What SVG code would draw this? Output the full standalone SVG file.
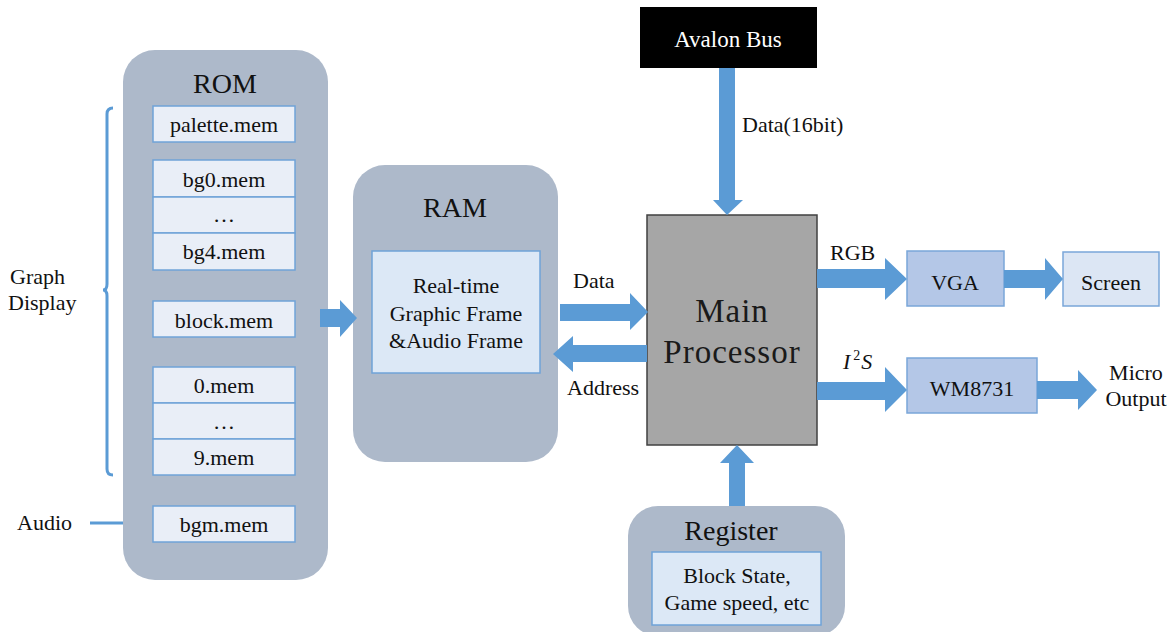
<svg xmlns="http://www.w3.org/2000/svg" width="1175" height="632" viewBox="0 0 1175 632" font-family="'Liberation Serif', 'Times New Roman', Times, serif">
<style>
.t{font-size:22px;text-anchor:middle;fill:#111;}
.l{font-size:22px;fill:#111;}
.h{font-size:28px;text-anchor:middle;fill:#111;}
.cont{fill:#adb9ca;}
.cell{fill:#e9eef7;stroke:#6fa3d8;stroke-width:1.5;}
.arr{fill:#5b9bd5;}
.dark{fill:#b4c7e7;stroke:#7aa6d9;stroke-width:1.5;}
</style>
<rect width="1175" height="632" fill="#ffffff"/>
<g id="rom">
<rect class="cont" x="123" y="50" width="205" height="530" rx="32"/>
<text class="h" x="225" y="93" font-family="Liberation Serif">ROM</text>
<rect class="cell" x="153" y="106" width="142" height="36"/>
<text class="t" x="224" y="132">palette.mem</text>
<rect class="cell" x="153" y="160" width="142" height="37"/>
<rect class="cell" x="153" y="197" width="142" height="36"/>
<rect class="cell" x="153" y="233" width="142" height="37"/>
<text class="t" x="224" y="187">bg0.mem</text>
<text class="t" x="224" y="222">…</text>
<text class="t" x="224" y="259">bg4.mem</text>
<rect class="cell" x="153" y="301" width="142" height="36"/>
<text class="t" x="224" y="328">block.mem</text>
<rect class="cell" x="153" y="367" width="142" height="36"/>
<rect class="cell" x="153" y="403" width="142" height="36"/>
<rect class="cell" x="153" y="439" width="142" height="36"/>
<text class="t" x="224" y="393">0.mem</text>
<text class="t" x="224" y="429">…</text>
<text class="t" x="224" y="465">9.mem</text>
<rect class="cell" x="153" y="506" width="142" height="36"/>
<text class="t" x="224" y="532">bgm.mem</text>
</g>
<g id="graph-display">
<path d="M113,108 Q107,108 107,114 V284 Q107,290 103,290 Q107,290 107,296 V469 Q107,475 113,475" fill="none" stroke="#5b9bd5" stroke-width="3"/>
<text class="l" x="10" y="284">Graph</text>
<text class="l" x="8" y="310">Display</text>
</g>
<g id="audio">
<line x1="90" y1="523" x2="123" y2="523" stroke="#5b9bd5" stroke-width="3"/>
<text class="l" x="17" y="530">Audio</text>
</g>
<g id="ram">
<rect class="cont" x="353" y="165" width="205" height="297" rx="32"/>
<text class="h" x="455" y="217">RAM</text>
<rect x="372" y="251" width="168" height="122" fill="#dce8f6" stroke="#6fa3d8" stroke-width="1.5"/>
<text class="t" x="456" y="293">Real-time</text>
<text class="t" x="456" y="321">Graphic Frame</text>
<text class="t" x="456" y="348">&amp;Audio Frame</text>
</g>
<g id="avalon">
<rect x="640" y="7" width="177" height="61" fill="#000"/>
<text x="728" y="47" font-size="23" text-anchor="middle" fill="#fff">Avalon Bus</text>
</g>
<g id="processor">
<rect x="647" y="215" width="170" height="230" fill="#a6a6a6" stroke="#404040" stroke-width="1.5"/>
<text x="732" y="322" font-size="33" text-anchor="middle" letter-spacing="1" fill="#1a1a1a">Main</text>
<text x="732" y="363" font-size="33" text-anchor="middle" letter-spacing="1" fill="#1a1a1a">Processor</text>
</g>
<g id="vga">
<rect class="dark" x="907" y="251" width="97" height="55"/>
<text class="t" x="955" y="290">VGA</text>
</g>
<g id="screen">
<rect x="1063" y="252" width="96" height="54" fill="#dce6f4" stroke="#7aa6d9" stroke-width="1.5"/>
<text class="t" x="1111" y="290">Screen</text>
</g>
<g id="wm8731">
<rect class="dark" x="907" y="358" width="130" height="55"/>
<text class="t" x="972" y="396">WM8731</text>
</g>
<g id="micro">
<text class="t" x="1136" y="380">Micro</text>
<text class="t" x="1136" y="406">Output</text>
</g>
<g id="register">
<rect class="cont" x="628" y="506" width="217" height="130" rx="30"/>
<text class="h" x="731" y="540">Register</text>
<rect x="652" y="552" width="169" height="73" fill="#dce8f6" stroke="#6fa3d8" stroke-width="1.5"/>
<text class="t" x="737" y="583">Block State,</text>
<text class="t" x="737" y="610">Game speed, etc</text>
</g>
<g id="connectors">
<polygon class="arr" points="320,309 340,309 340,300 357,318 340,337 340,327 320,327"/>
<polygon class="arr" points="560,304 630,304 630,293 648,312 630,330 630,321 560,321"/>
<polygon class="arr" points="647,345 573,345 573,336 553,354 573,372 573,362 647,362"/>
<polygon class="arr" points="719,68 735,68 735,200 743,200 727,215 713,200 719,200"/>
<polygon class="arr" points="729,506 745,506 745,463 754,463 737,445 720,463 729,463"/>
<polygon class="arr" points="817,269 885,269 885,258 907,279 885,300 885,288 817,288"/>
<polygon class="arr" points="1004,270 1045,270 1045,258 1063,279 1045,300 1045,288 1004,288"/>
<polygon class="arr" points="817,382 885,382 885,367 907,390 885,412 885,400 817,400"/>
<polygon class="arr" points="1037,381 1078,381 1078,370 1097,390 1078,410 1078,399 1037,399"/>
<text class="l" x="573" y="288">Data</text>
<text class="l" x="567" y="395">Address</text>
<text class="l" x="742" y="132">Data(16bit)</text>
<text class="l" x="830" y="260">RGB</text>
<text class="l" x="843" y="369" font-style="italic">I<tspan dx="3" dy="-9" font-size="14" font-style="normal">2</tspan><tspan dx="1" dy="9">S</tspan></text>
</g>
</svg>
